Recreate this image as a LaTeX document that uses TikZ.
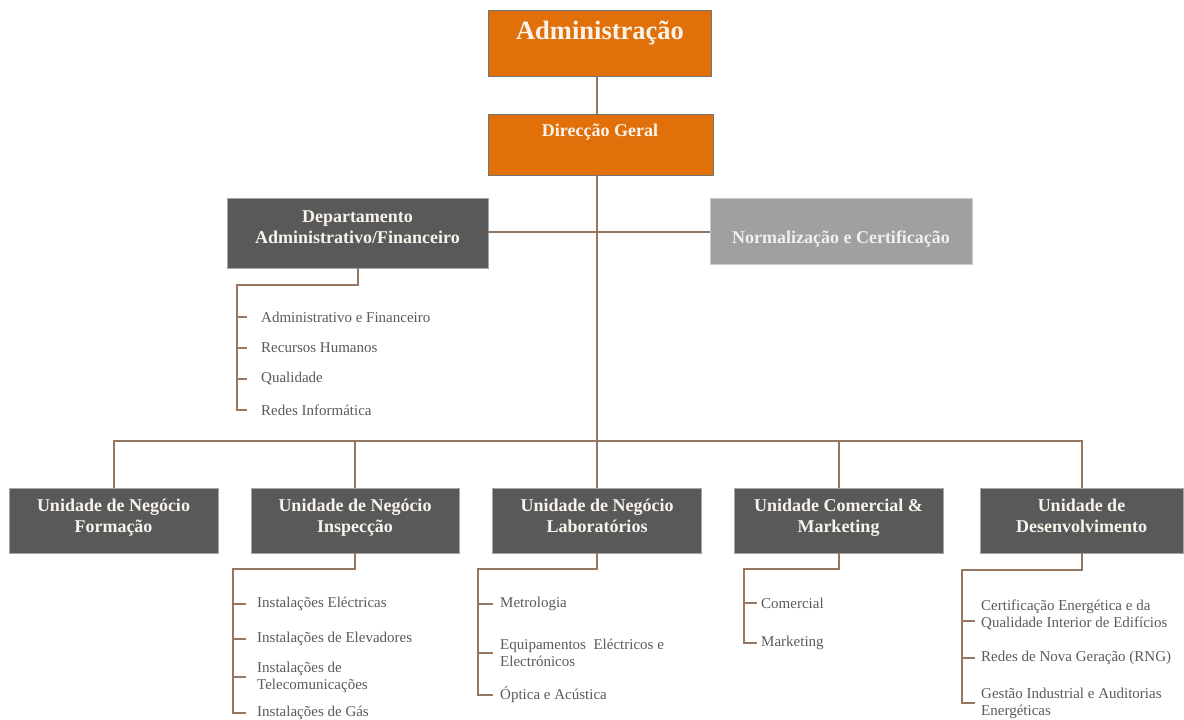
\documentclass[tikz,border=0pt]{standalone}
\usepackage{fontspec}
\setmainfont{Liberation Serif}
\definecolor{orangebox}{RGB}{226,112,10}
\definecolor{darkbox}{RGB}{89,89,89}
\definecolor{lightbox}{RGB}{160,160,160}
\definecolor{conn}{RGB}{150,120,98}
\definecolor{itemtxt}{RGB}{90,90,90}
\definecolor{boxtxt}{RGB}{248,244,236}
\begin{document}
\begin{tikzpicture}[x=1pt,y=-1pt,
  box/.style={rectangle, inner sep=0pt},
  orgbox/.style={box, fill=orangebox, draw=black!55, line width=0.8pt},
  dkbox/.style={box, fill=darkbox, draw=black!35, line width=0.6pt},
  ltbox/.style={box, fill=lightbox, draw=black!20, line width=0.6pt},
  title/.style={inner sep=0pt, align=center, text=boxtxt, font=\fontsize{18}{21}\selectfont\bfseries,
    execute at begin node=\strut, execute at end node=\strut},
  item/.style={inner sep=0pt, anchor=west, align=left, text=itemtxt, font=\fontsize{15}{17}\selectfont},
  link/.style={draw=conn, line width=2pt}
]
\useasboundingbox (0,0) rectangle (1184,720);

% boxes
\node[orgbox, minimum width=223, minimum height=66] (adm) at (599.5,43) {};
\node[orgbox, minimum width=225, minimum height=61] (dg) at (600.5,144.5) {};
\node[dkbox, minimum width=261, minimum height=70] (dept) at (357.5,233) {};
\node[ltbox, minimum width=262, minimum height=66] (norm) at (841,231) {};
\node[dkbox, minimum width=209, minimum height=65] (form) at (113.5,520.5) {};
\node[dkbox, minimum width=208, minimum height=65] (insp) at (355,520.5) {};
\node[dkbox, minimum width=209, minimum height=65] (lab) at (597,520.5) {};
\node[dkbox, minimum width=209, minimum height=65] (com) at (838.5,520.5) {};
\node[dkbox, minimum width=203, minimum height=65] (desv) at (1081.5,520.5) {};

% titles
\node[title, font=\fontsize{26.5}{30}\selectfont\bfseries] (admt) at (600,33.5) {Administração};
\node[title] (dgt) at (600,132.5) {Direcção Geral};
\node[title] (deptt) at (357.5,230) {Departamento\\Administrativo/Financeiro};
\node[title, text=white!94!black] (normt) at (841,239.5) {Normalização e Certificação};
\node[title] (formt) at (113.5,518.8) {Unidade de Negócio\\Formação};
\node[title] (inspt) at (355,518.8) {Unidade de Negócio\\Inspecção};
\node[title] (labt) at (597,518.8) {Unidade de Negócio\\Laboratórios};
\node[title] (comt) at (838.5,518.8) {Unidade Comercial \&\\Marketing};
\node[title] (desvt) at (1081.5,518.8) {Unidade de\\Desenvolvimento};

% main connectors
\coordinate (bus) at (0,441);
\draw[link] (adm.south -| 597,0) -- (dg.north -| 597,0);
\draw[link] (dg.south -| 597,0) -- (lab.north -| 597,0);
\draw[link] (dept.east |- 0,232) -- (norm.west |- 0,232);
\draw[link] (form.north) -- (form.north |- bus) -- (desv.north |- bus) -- (desv.north);
\draw[link] (insp.north) -- (insp.north |- bus);
\draw[link] (com.north) -- (com.north |- bus);

% Departamento items
\node[item] (d1) at (261,317) {Administrativo e Financeiro};
\node[item] (d2) at (261,348) {Recursos Humanos};
\node[item] (d3) at (261,379) {Qualidade};
\node[item] (d4) at (261,410) {Redes Informática};
\coordinate (dsp) at (237,285);
\draw[link] (dept.south) |- (dsp) |- ([xshift=-14]d4.west);
\foreach \n in {d1,d2,d3}{\draw[link] (dsp |- \n.west) -- ([xshift=-14]\n.west);}

% Inspecção items
\node[item] (i1) at (257,604) {Instalações Eléctricas};
\node[item] (i2) at (257,639) {Instalações de Elevadores};
\node[item] (i3) at (257,677) {Instalações de\\Telecomunicações};
\node[item] (i4) at (257,713) {Instalações de Gás};
\coordinate (isp) at (233,569);
\draw[link] (insp.south) |- (isp) |- ([xshift=-11]i4.west);
\foreach \n in {i1,i2,i3}{\draw[link] (isp |- \n.west) -- ([xshift=-11]\n.west);}

% Laboratórios items
\node[item] (l1) at (500,604) {Metrologia};
\node[item] (l2) at (500,653) {Equipamentos\ \ Eléctricos e\\Electrónicos};
\node[item] (l3) at (500,695) {Óptica e Acústica};
\coordinate (lsp) at (478,569);
\draw[link] (lab.south) |- (lsp) |- ([xshift=-7]l3.west);
\foreach \n in {l1,l2}{\draw[link] (lsp |- \n.west) -- ([xshift=-7]\n.west);}

% Comercial items
\node[item] (c1) at (761,603) {Comercial};
\node[item] (c2) at (761,643) {Marketing};
\coordinate (csp) at (744,569);
\draw[link] (com.south) |- (csp) |- ([xshift=-4]c2.west);
\draw[link] (csp |- c1.west) -- ([xshift=-4]c1.west);

% Desenvolvimento items
\node[item] (v1) at (981,615) {Certificação Energética e da\\Qualidade Interior de Edifícios};
\node[item] (v2) at (981,658) {Redes de Nova Geração (RNG)};
\node[item] (v3) at (981,703) {Gestão Industrial e Auditorias\\Energéticas};
\coordinate (vsp) at (962,570);
\draw[link] (desv.south) |- (vsp) |- ([xshift=-6]v3.west);
\draw[link] (vsp |- v2.west) -- ([xshift=-6]v2.west);
\draw[link] ([yshift=-6pt]vsp |- v1.west) -- ([xshift=-6,yshift=-6pt]v1.west);
\end{tikzpicture}
\end{document}
